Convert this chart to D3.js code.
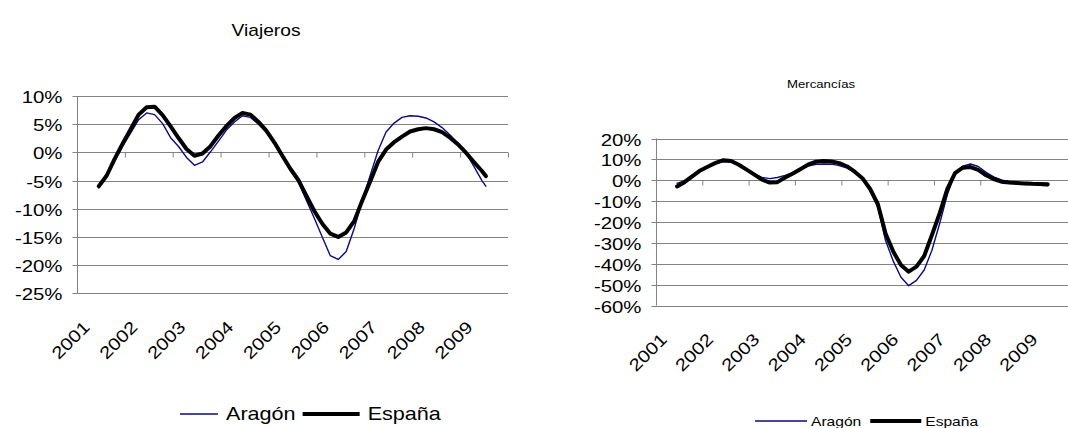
<!DOCTYPE html>
<html><head><meta charset="utf-8">
<script src="https://cdn.jsdelivr.net/npm/d3@7"></script>
<style>
html,body{margin:0;padding:0;background:#fff;}
svg{display:block;font-family:"Liberation Sans",Arial,sans-serif;}
</style></head>
<body><svg id="c" width="1068" height="428"></svg>
<script>
// ---- data ----
const periods = ["2001-06","2001-08","2001-10","2001-12",
"2002-02","2002-04","2002-06","2002-08","2002-10","2002-12",
"2003-02","2003-04","2003-06","2003-08","2003-10","2003-12",
"2004-02","2004-04","2004-06","2004-08","2004-10","2004-12",
"2005-02","2005-04","2005-06","2005-08","2005-10","2005-12",
"2006-02","2006-04","2006-06","2006-08","2006-10","2006-12",
"2007-02","2007-04","2007-06","2007-08","2007-10","2007-12",
"2008-02","2008-04","2008-06","2008-08","2008-10","2008-12",
"2009-02","2009-04","2009-06","2009-07"];
const years = ["2001","2002","2003","2004","2005","2006","2007","2008","2009"];
const seriesNames = ["Aragón","España"];

// Viajeros (%)
const viajerosAragon = [-6.3,-3.9,-1.5,1.1,3.5,5.8,7.0,6.7,5.1,2.6,1.0,-0.9,-2.3,-1.7,0.1,2.0,4.0,5.4,6.5,6.2,5.0,3.6,1.4,-0.8,-3.1,-5.2,-8.5,-11.7,-15.1,-18.3,-19.0,-17.6,-13.5,-8.6,-4.0,0.3,3.6,5.2,6.2,6.5,6.4,6.1,5.4,4.4,3.1,1.6,-0.2,-2.5,-5.0,-6.0];
const viajerosEspana = [-6.0,-4.1,-1.1,1.6,4.2,6.7,8.0,8.1,6.6,4.6,2.5,0.6,-0.6,-0.2,1.1,3.0,4.7,6.1,7.0,6.7,5.4,3.8,1.7,-0.6,-2.9,-4.9,-7.7,-10.4,-12.7,-14.4,-15.0,-14.2,-12.2,-8.6,-5.1,-1.7,0.5,1.8,2.8,3.7,4.1,4.3,4.1,3.6,2.6,1.4,-0.1,-1.7,-3.3,-4.2];
const viajerosTicks = [10,5,0,-5,-10,-15,-20,-25];

// Mercancías (%)
const mercanciasAragon = [-1.5,-0.2,2.2,4.8,6.5,8.0,9.0,8.8,7.2,5.0,3.0,1.4,0.8,1.3,2.3,3.6,5.2,6.8,7.6,7.8,7.7,7.0,5.8,3.8,0.8,-4.5,-13.0,-29.0,-39.0,-46.5,-50.5,-48.0,-43.0,-33.5,-20.5,-7.0,3.2,6.8,7.8,6.6,3.8,1.6,0.2,-0.7,-1.3,-1.6,-2.0,-2.4,-2.7,null];
const mercanciasEspana = [-3.0,-0.8,2.0,4.7,6.6,8.3,9.6,9.2,7.4,5.1,2.7,0.3,-1.1,-0.9,1.3,3.2,5.4,7.6,8.9,9.2,9.0,8.2,6.6,4.1,1.0,-4.2,-11.5,-25.6,-34.4,-40.6,-43.8,-41.4,-36.3,-26.2,-15.6,-4.3,3.4,6.0,6.3,5.0,2.4,0.6,-0.7,-1.1,-1.3,-1.5,-1.7,-1.8,-1.9,null];
const mercanciasTicks = [20,10,0,-10,-20,-30,-40,-50,-60];

const colors = {"Aragón":"#0a0a80","España":"#000000"};
const widths = {"Aragón":1.4,"España":4};

// ---- drawing ----
const svg = d3.select("#c");
const parse = d3.timeParse("%Y-%m");
const midMonth = p => d3.timeDay.offset(parse(p), 15);
const gridColor = "#828282";

function drawChart(cfg){
  const g = svg.append("g");
  const x = d3.scaleTime().domain([new Date(2001,0,1), new Date(2010,0,1)]).range([cfg.left, cfg.right]);
  const y = d3.scaleLinear().domain([d3.min(cfg.ticks), d3.max(cfg.ticks)]).range([cfg.bottom, cfg.top]);

  // gridlines
  g.append("g").selectAll("line").data(cfg.ticks).join("line")
    .attr("x1", cfg.left).attr("x2", cfg.right)
    .attr("y1", d => Math.round(y(d))+0.5).attr("y2", d => Math.round(y(d))+0.5)
    .attr("stroke", gridColor).attr("stroke-width", 1);

  // y axis
  const ya = g.append("g").attr("transform", `translate(${Math.round(cfg.left)+0.5},0)`)
    .call(d3.axisLeft(y).tickValues(cfg.ticks).tickSize(5).tickFormat(d => d + "%"));
  ya.select(".domain").attr("stroke", gridColor).attr("d", `M0,${y(d3.max(cfg.ticks))}V${y(d3.min(cfg.ticks))}`);
  ya.selectAll(".tick line").attr("stroke", gridColor);
  ya.selectAll(".tick").attr("transform", d => `translate(0,${Math.round(y(d))+0.5})`);
  ya.selectAll(".tick text").attr("font-size", cfg.fs).attr("fill", "#000")
    .attr("font-family", '"Liberation Sans",Arial,sans-serif')
    .attr("x", null).attr("dy", "0.36em")
    .attr("transform", `translate(-15,0) scale(${cfg.sx},1)`);

  // category axis at 0 (ticks down)
  const yearTicks = d3.range(2002, 2011).map(yr => new Date(yr,0,1));
  const xa = g.append("g").attr("transform", `translate(0,${Math.round(y(0))+0.5})`)
    .call(d3.axisBottom(x).tickValues(yearTicks).tickSize(5).tickFormat(""));
  xa.select(".domain").remove();
  xa.selectAll(".tick line").attr("stroke", gridColor);

  // year labels (rotated)
  g.append("g").selectAll("text").data(years).join("text")
    .attr("text-anchor", "end")
    .attr("font-size", cfg.fs)
    .attr("transform", d => `translate(${x(new Date(+d,6,1)) + cfg.lx},${cfg.bottom + cfg.ly}) rotate(-45) scale(${cfg.sx},1)`)
    .text(d => d);

  // lines
  const line = d3.line()
    .defined(d => d.v != null)
    .x(d => x(midMonth(d.p))).y(d => y(d.v));
  seriesNames.forEach((name, i) => {
    const vals = cfg.series[i];
    const pts = periods.map((p, j) => ({p, v: vals[j]}));
    g.append("path").datum(pts).attr("d", line)
      .attr("fill", "none").attr("stroke", colors[name]).attr("stroke-width", widths[name])
      .attr("stroke-linejoin", "round").attr("stroke-linecap", "round");
  });

  // title
  g.append("text")
    .attr("font-size", cfg.titleFs).attr("text-anchor", "middle")
    .attr("transform", `translate(${cfg.titleX},${cfg.titleY}) scale(${cfg.sx},1)`)
    .text(cfg.title);

  // legend
  const lg = g.append("g");
  let lx = cfg.legX;
  seriesNames.forEach((name, i) => {
    const len = cfg.legLine[i];
    lg.append("line").attr("x1", lx).attr("x2", lx + len)
      .attr("y1", cfg.legY).attr("y2", cfg.legY)
      .attr("stroke", colors[name]).attr("stroke-width", widths[name]);
    const tx = lx + len + cfg.legGap;
    const t = lg.append("text").attr("font-size", cfg.legFs)
      .attr("transform", `translate(${tx},${cfg.legY + cfg.legFs*0.36}) scale(${cfg.legSx},1)`)
      .text(name);
    const w = t.node().getComputedTextLength() * cfg.legSx;
    lx = tx + w + cfg.legSep;
  });
}

drawChart({
  left: 77, right: 508, top: 96, bottom: 293.3,
  ticks: viajerosTicks, series: [viajerosAragon, viajerosEspana],
  fs: 17, sx: 1.2, lx: -10, ly: 35,
  title: "Viajeros", titleX: 266, titleY: 36, titleFs: 16,
  legX: 180, legY: 414, legLine: [38, 57], legGap: 8, legSep: 7, legFs: 18, legSx: 1.2
});
drawChart({
  left: 656, right: 1073, top: 138.5, bottom: 305.5,
  ticks: mercanciasTicks, series: [mercanciasAragon, mercanciasEspana],
  fs: 17, sx: 1.2, lx: -11, ly: 35,
  title: "Mercancías", titleX: 821, titleY: 88, titleFs: 11,
  legX: 755, legY: 421, legLine: [52, 51], legGap: 4, legSep: 9, legFs: 13, legSx: 1.2
});
</script></body></html>
